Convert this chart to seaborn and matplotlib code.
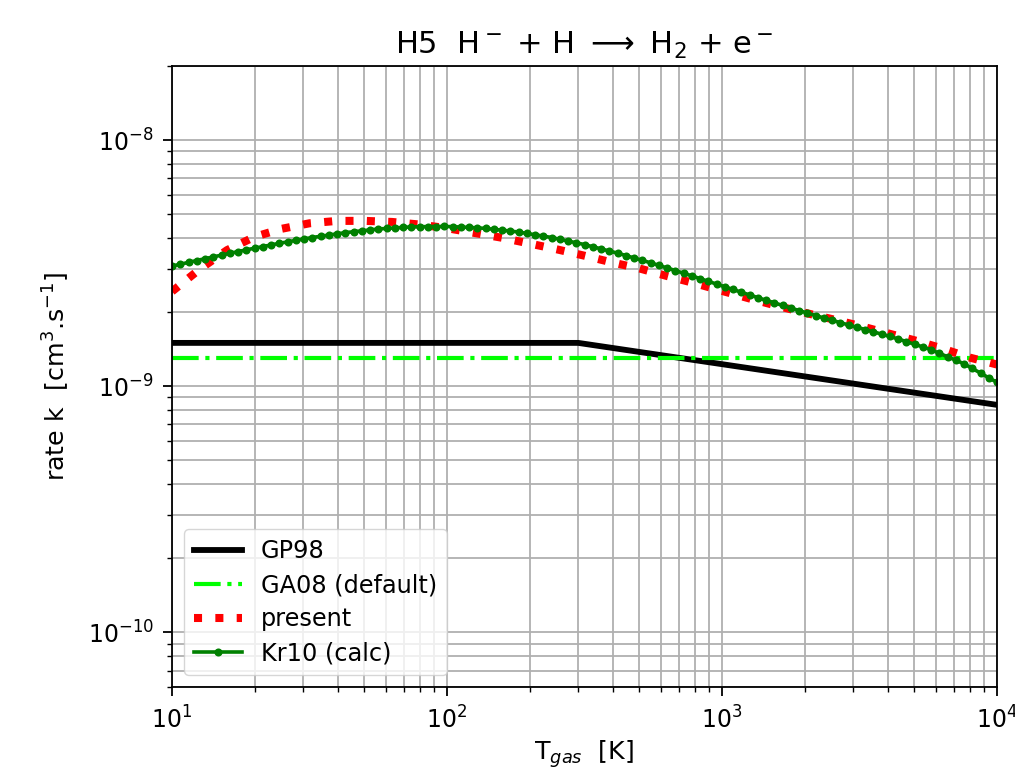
import numpy as np
import matplotlib
matplotlib.use('Agg')
import matplotlib.pyplot as plt
import seaborn as sns

# ------------------------------------------------------------
# data (rate in units of 1e-9 cm^3 s^-1)
# ------------------------------------------------------------

# GP98: flat up to 300 K, then power law
T_gp98 = [10, 300, 10000]
k_gp98 = [1.5, 1.5, 0.84]

# GA08 (default): constant
T_ga08 = [10, 10000]
k_ga08 = [1.3, 1.3]

# present work
T_present = [10, 12.59, 15.85, 19.95, 25.12, 31.62, 39.81, 50.12, 63.10, 79.43,
             100, 125.9, 158.5, 199.5, 251.2, 316.2, 398.1, 501.2, 631.0, 794.3,
             1000, 1259, 1585, 1995, 2512, 3162, 3981, 5012, 6310, 7943, 10000]
k_present = [2.427, 2.985, 3.573, 4.046, 4.365, 4.592, 4.695, 4.698, 4.650, 4.539,
             4.385, 4.194, 4.010, 3.800, 3.597, 3.390, 3.184, 3.009, 2.803, 2.622,
             2.439, 2.272, 2.121, 1.990, 1.874, 1.760, 1.644, 1.537, 1.425, 1.308,
             1.225]

# Kr10 (calc)
T_kr10 = [10.0, 10.72, 11.48, 12.30, 13.18, 14.13, 15.14, 16.22, 17.38, 18.62,
          19.95, 21.38, 22.91, 24.55, 26.30, 28.18, 30.20, 32.36, 34.67, 37.15,
          39.81, 42.66, 45.71, 48.98, 52.48, 56.23, 60.26, 64.57, 69.18, 74.13,
          79.43, 85.11, 91.20, 97.72,
          104.7, 112.2, 120.2, 128.8, 138.0, 147.9, 158.5, 169.8, 182.0, 195.0,
          208.9, 223.9, 239.9, 257.0, 275.4, 295.1, 316.2, 338.8, 363.1, 389.1,
          416.9, 446.7, 478.6, 512.9, 549.5, 588.8, 631.0, 676.1, 724.4, 776.3,
          831.8, 891.3, 955.0,
          1023, 1096, 1175, 1259, 1349, 1445, 1549, 1660, 1778, 1905,
          2042, 2188, 2344, 2512, 2692, 2884, 3090, 3311, 3548, 3802,
          4074, 4365, 4677, 5012, 5370, 5754, 6166, 6607, 7079, 7586,
          8128, 8710, 9333, 10000]
k_kr10 = [3.078, 3.131, 3.186, 3.242, 3.298, 3.354, 3.410, 3.467, 3.525, 3.582,
          3.637, 3.693, 3.751, 3.807, 3.860, 3.913, 3.968, 4.020, 4.067, 4.113,
          4.161, 4.207, 4.243, 4.280, 4.317, 4.354, 4.375, 4.397, 4.418, 4.440,
          4.447, 4.451, 4.455, 4.459,
          4.449, 4.434, 4.418, 4.402, 4.376, 4.341, 4.305, 4.271, 4.230, 4.177,
          4.125, 4.074, 4.020, 3.954, 3.889, 3.826, 3.763, 3.688, 3.615, 3.543,
          3.473, 3.397, 3.321, 3.246, 3.174, 3.099, 3.024, 2.951, 2.879, 2.808,
          2.737, 2.668, 2.601,
          2.536, 2.472, 2.410, 2.350, 2.291, 2.235, 2.182, 2.129, 2.078, 2.030,
          1.984, 1.938, 1.894, 1.853, 1.813, 1.775, 1.737, 1.700, 1.664, 1.628,
          1.593, 1.557, 1.518, 1.481, 1.445, 1.406, 1.361, 1.318, 1.276, 1.233,
          1.181, 1.131, 1.082, 1.037]

unit = 1e-9

# ------------------------------------------------------------
# figure
# ------------------------------------------------------------
plt.rcParams['font.family'] = ['DejaVu Sans']
plt.rcParams['mathtext.fontset'] = 'dejavusans'

fig = plt.figure(figsize=(10.15, 7.7), dpi=100)
ax = fig.add_axes([0.1695, 0.1078, 0.8128, 0.8065])

sns.lineplot(x=T_gp98, y=np.array(k_gp98) * unit, color='black', lw=4.2,
             label='GP98', ax=ax)
sns.lineplot(x=T_ga08, y=np.array(k_ga08) * unit, color='lime', lw=3.0,
             linestyle='-.', label='GA08 (default)', ax=ax)
sns.lineplot(x=T_present, y=np.array(k_present) * unit, color='red', lw=5.8,
             linestyle=':', label='present', ax=ax)
sns.lineplot(x=T_kr10, y=np.array(k_kr10) * unit, color='green', lw=2.6,
             marker='o', markersize=5.8, markeredgecolor='green',
             markeredgewidth=0, label='Kr10 (calc)', ax=ax)

ax.set_xscale('log')
ax.set_yscale('log')
ax.set_xlim(10, 1e4)
ax.set_ylim(6e-11, 2e-8)

ax.grid(True, which='both', color='#b0b0b0', lw=1.3)
ax.set_axisbelow(True)
for s in ax.spines.values():
    s.set_linewidth(1.3)
ax.tick_params(which='major', length=6.2, width=1.3, labelsize=17)
ax.tick_params(axis='x', which='major', pad=8)
ax.tick_params(axis='y', which='major', pad=7)
ax.tick_params(which='minor', length=3.4, width=1.0)

ax.set_title(r'H5  H$^-$ + H $\longrightarrow$ H$_2$ + e$^-$', fontsize=22, pad=9)
ax.set_xlabel(r'T$_{gas}$  [K]', fontsize=18.3, labelpad=3)
ax.set_ylabel(r'rate k  [cm$^3$.s$^{-1}$]', fontsize=18.3, labelpad=11)

ax.legend(loc='lower left', fontsize=17.3, handlelength=2.0, labelspacing=0.42)

fig.savefig('out.png', dpi=100)
